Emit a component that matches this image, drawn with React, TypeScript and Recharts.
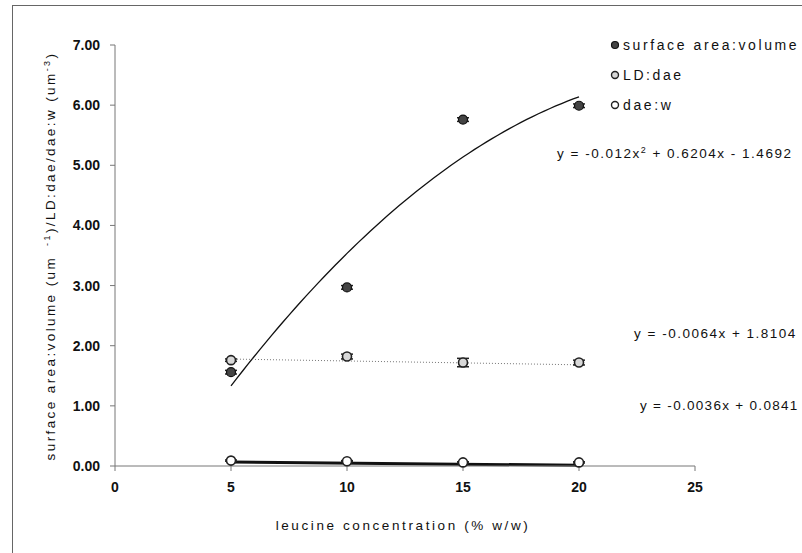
import React from 'react';
import { ComposedChart, Scatter, Line, XAxis, YAxis, ErrorBar } from 'recharts';

// leucine concentration (% w/w)
const leucine = [5, 10, 15, 20];

const surfaceVolume = [1.56, 2.97, 5.76, 5.99];
const surfaceVolumeErr = [0.03, 0.03, 0.03, 0.03];
const ldDae = [1.76, 1.82, 1.72, 1.72];
const ldDaeErr = [0.02, 0.04, 0.07, 0.04];
const daeW = [0.09, 0.08, 0.06, 0.06];
const daeWErr = [0.01, 0.01, 0.01, 0.01];

// trendline coefficients, highest power first
const surfaceFit = [-0.012, 0.6204, -1.4692];
const ldDaeFit = [-0.0064, 1.8104];
const daeWFit = [-0.0036, 0.0841];

const xTicks = [0, 5, 10, 15, 20, 25];
const yTicks = [0, 1, 2, 3, 4, 5, 6, 7];

const points = (ys: number[], errs: number[]) =>
  leucine.map((x, i) => ({ x, y: ys[i], err: errs[i] }));

const poly = (c: number[], x: number) => c.reduce((acc, k) => acc * x + k, 0);

const fitLine = (c: number[], xs: number[]) => xs.map((x) => ({ x, y: poly(c, x) }));

const curveXs: number[] = [];
for (let x = 5; x <= 20.0001; x += 0.25) curveXs.push(x);

const W = 802;
const H = 553;
const font = '"Liberation Sans", Arial, sans-serif';

const FilledDot = (p: any) => (
  <circle cx={p.cx} cy={p.cy} r={4.5} fill="#444" stroke="#111" strokeWidth={1.2} />
);
const GreyDot = (p: any) => (
  <circle cx={p.cx} cy={p.cy} r={4.5} fill="#d8d8d8" stroke="#222" strokeWidth={1.6} />
);
const OpenDot = (p: any) => (
  <circle cx={p.cx} cy={p.cy} r={4.5} fill="#fff" stroke="#222" strokeWidth={1.6} />
);

const tickStyle = { fontSize: 14, fontWeight: 'bold', fill: '#111', fontFamily: font };
const textStyle: React.CSSProperties = { fontFamily: font, fontSize: 13.5, fill: '#111' };

export default function App() {
  return (
    <div style={{ position: 'absolute', left: 0, top: 0, width: W, height: H, background: '#fff' }}>
      <ComposedChart width={W} height={H} margin={{ top: 45, right: 107, bottom: 57, left: 55 }}>
        <XAxis
          type="number"
          dataKey="x"
          domain={[0, 25]}
          ticks={xTicks}
          height={30}
          tickSize={5}
          tickMargin={11}
          stroke="#777"
          tick={tickStyle}
          allowDuplicatedCategory={false}
        />
        <YAxis
          type="number"
          dataKey="y"
          domain={[0, 7]}
          ticks={yTicks}
          width={60}
          tickSize={5}
          tickMargin={10}
          stroke="#777"
          tick={tickStyle}
          tickFormatter={(v: number) => v.toFixed(2)}
        />
        <Line
          data={fitLine(surfaceFit, curveXs)}
          dataKey="y"
          type="linear"
          dot={false}
          stroke="#111"
          strokeWidth={1.3}
          isAnimationActive={false}
        />
        <Line
          data={fitLine(ldDaeFit, [5, 20])}
          dataKey="y"
          type="linear"
          dot={false}
          stroke="#777"
          strokeWidth={1}
          strokeDasharray="1 2"
          isAnimationActive={false}
        />
        <Line
          data={fitLine(daeWFit, [5, 20])}
          dataKey="y"
          type="linear"
          dot={false}
          stroke="#111"
          strokeWidth={3}
          isAnimationActive={false}
        />
        <Scatter data={points(surfaceVolume, surfaceVolumeErr)} dataKey="y" shape={FilledDot} isAnimationActive={false}>
          <ErrorBar dataKey="err" direction="y" width={6} stroke="#222" />
        </Scatter>
        <Scatter data={points(ldDae, ldDaeErr)} dataKey="y" shape={GreyDot} isAnimationActive={false}>
          <ErrorBar dataKey="err" direction="y" width={6} stroke="#222" />
        </Scatter>
        <Scatter data={points(daeW, daeWErr)} dataKey="y" shape={OpenDot} isAnimationActive={false}>
          <ErrorBar dataKey="err" direction="y" width={6} stroke="#222" />
        </Scatter>
      </ComposedChart>

      <svg width={W} height={H} style={{ position: 'absolute', left: 0, top: 0, pointerEvents: 'none' }}>
        {/* outer frame */}
        <rect x={12.5} y={5.5} width={820} height={580} fill="none" stroke="#666" strokeWidth={1} />

        {/* legend */}
        <g style={{ ...textStyle, fontSize: 14, letterSpacing: 2.6 } as any}>
          <circle cx={615} cy={45} r={3.5} fill="#444" stroke="#111" strokeWidth={1.2} />
          <text x={623} y={50}>surface area:volume</text>
          <circle cx={615} cy={75} r={3.5} fill="#d8d8d8" stroke="#222" strokeWidth={1.4} />
          <text x={623} y={80}>LD:dae</text>
          <circle cx={615} cy={105} r={3.5} fill="#fff" stroke="#222" strokeWidth={1.4} />
          <text x={623} y={110}>dae:w</text>
        </g>

        {/* trendline equations */}
        <g style={textStyle}>
          <text x={557} y={158} style={{ letterSpacing: 1.5 } as any}>
            y = -0.012x<tspan dy={-5} fontSize={9}>2</tspan>
            <tspan dy={5}> + 0.6204x - 1.4692</tspan>
          </text>
          <text x={634} y={338} style={{ letterSpacing: 1.5 } as any}>y = -0.0064x + 1.8104</text>
          <text x={640} y={410} style={{ letterSpacing: 1.3 } as any}>y = -0.0036x + 0.0841</text>
        </g>

        {/* axis titles */}
        <text x={403} y={530} textAnchor="middle" style={{ ...textStyle, letterSpacing: 2.6 } as any}>
          leucine concentration (% w/w)
        </text>
        <text
          transform="translate(55, 256) rotate(-90)"
          textAnchor="middle"
          style={{ ...textStyle, letterSpacing: 2.4 } as any}
        >
          surface area:volume (um
          <tspan dx={10} dy={-5} fontSize={9}>-1</tspan>
          <tspan dy={5}>)/LD:dae/dae:w (um</tspan>
          <tspan dy={-5} fontSize={9}>-3</tspan>
          <tspan dy={5}>)</tspan>
        </text>
      </svg>
    </div>
  );
}
